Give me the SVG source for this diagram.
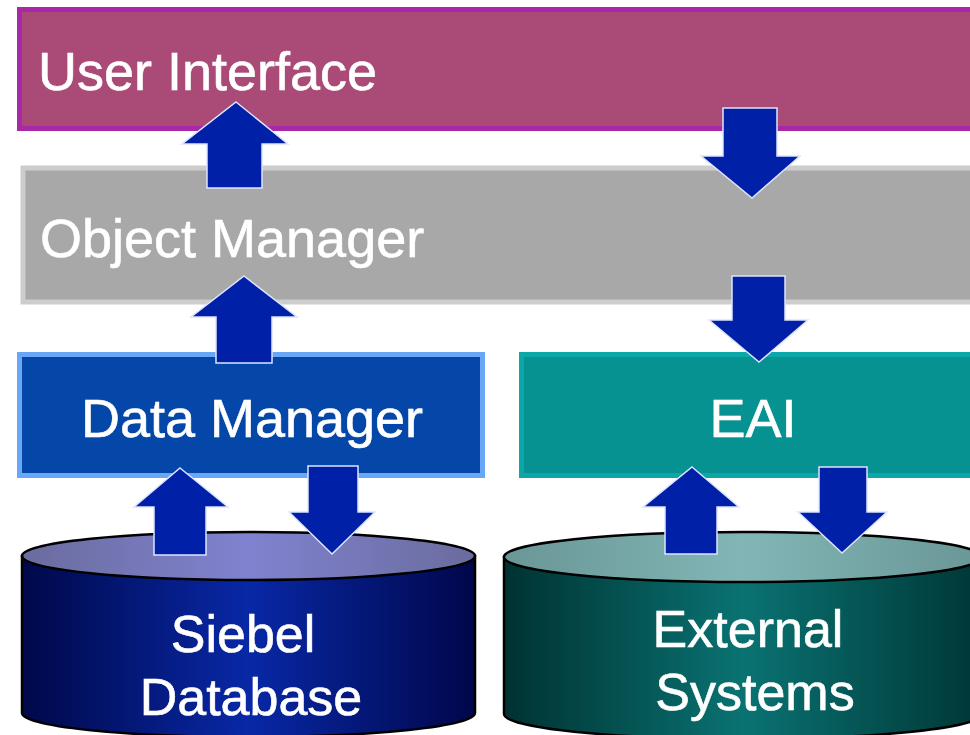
<svg xmlns="http://www.w3.org/2000/svg" width="970" height="735" viewBox="0 0 970 735">
  <style>
    .lbl { font-family: "Liberation Sans", Arial, sans-serif; fill: #ffffff; stroke: #ffffff; stroke-width: 0.6; }
    .band { font-size: 54px; }
    .cyl { font-size: 52px; }
    .arrow { fill: #0020A8; stroke: #DDE4FF; stroke-width: 1.5; stroke-linejoin: miter; }
    .cylEdge { stroke: #000000; stroke-width: 2.5; }
  </style>
  <defs>
    <linearGradient id="dbBody" x1="0" y1="0" x2="1" y2="0">
      <stop offset="0" stop-color="#00084A"/>
      <stop offset="0.5" stop-color="#0828A6"/>
      <stop offset="1" stop-color="#00074A"/>
    </linearGradient>
    <linearGradient id="dbTop" x1="0" y1="0" x2="1" y2="0">
      <stop offset="0" stop-color="#6A6C9E"/>
      <stop offset="0.5" stop-color="#8082D0"/>
      <stop offset="1" stop-color="#6A6C9E"/>
    </linearGradient>
    <linearGradient id="extBody" x1="0" y1="0" x2="1" y2="0">
      <stop offset="0" stop-color="#003232"/>
      <stop offset="0.5" stop-color="#0A7272"/>
      <stop offset="1" stop-color="#003636"/>
    </linearGradient>
    <linearGradient id="extTop" x1="0" y1="0" x2="1" y2="0">
      <stop offset="0" stop-color="#6A9696"/>
      <stop offset="0.5" stop-color="#82B6B6"/>
      <stop offset="1" stop-color="#6A9696"/>
    </linearGradient>
  </defs>

  <rect width="970" height="735" fill="#ffffff"/>

  <!-- User Interface layer -->
  <g id="user-interface">
    <rect x="19.5" y="9.5" width="960" height="119" fill="#AA4A76" stroke="#A828A8" stroke-width="5"/>
    <text class="lbl band" x="38" y="90">User Interface</text>
  </g>

  <!-- Object Manager layer -->
  <g id="object-manager">
    <rect x="23" y="168" width="960" height="134" fill="#A8A8A8" stroke="#CDCDCD" stroke-width="5"/>
    <text class="lbl band" x="40" y="257">Object Manager</text>
  </g>

  <!-- Data Manager -->
  <g id="data-manager">
    <rect x="19.5" y="354.5" width="463" height="121" fill="#0447A8" stroke="#6AA6F6" stroke-width="5"/>
    <text class="lbl band" x="252" y="437" text-anchor="middle">Data Manager</text>
  </g>

  <!-- EAI -->
  <g id="eai">
    <rect x="521.5" y="354.5" width="460" height="121" fill="#069290" stroke="#0AA8A8" stroke-width="5"/>
    <text class="lbl band" x="753" y="437" text-anchor="middle">EAI</text>
  </g>

  <!-- Siebel Database cylinder -->
  <g id="siebel-database">
    <path class="cylEdge" d="M22,556 L22,713 A226.5,24 0 0 0 475,713 L475,556 Z" fill="url(#dbBody)"/>
    <ellipse class="cylEdge" cx="248.5" cy="556" rx="226.5" ry="24" fill="url(#dbTop)"/>
    <text class="lbl cyl" x="243" y="652" text-anchor="middle">Siebel</text>
    <text class="lbl cyl" x="251" y="715" text-anchor="middle">Database</text>
  </g>

  <!-- External Systems cylinder -->
  <g id="external-systems">
    <path class="cylEdge" d="M504,557 L504,714 A239,25 0 0 0 982,714 L982,557 Z" fill="url(#extBody)"/>
    <ellipse class="cylEdge" cx="743" cy="557" rx="239" ry="25" fill="url(#extTop)"/>
    <text class="lbl cyl" x="748" y="647" text-anchor="middle">External</text>
    <text class="lbl cyl" x="755" y="710" text-anchor="middle">Systems</text>
  </g>

  <!-- Block arrows between layers -->
  <g id="connectors">
    <polygon class="arrow" points="236,102 288,144 262,144 262,188 207,188 207,144 182,144"/>
    <polygon class="arrow" points="244,276 297,317 272,317 272,363 216,363 216,317 191,317"/>
    <polygon class="arrow" points="723,108 777,108 777,156 800,156 752,198 701,156 723,156"/>
    <polygon class="arrow" points="732,276 785,276 785,320 808,320 759,362 709,320 732,320"/>
    <polygon class="arrow" points="180,468 228,507 206,507 206,555 154,555 154,507 134,507"/>
    <polygon class="arrow" points="308,466 358,466 358,512 375,512 332,554 289,512 308,512"/>
    <polygon class="arrow" points="692,467 739,507 717,507 717,554 665,554 665,507 643,507"/>
    <polygon class="arrow" points="819,467 867,467 867,512 887,512 842,553 798,512 819,512"/>
  </g>
</svg>
